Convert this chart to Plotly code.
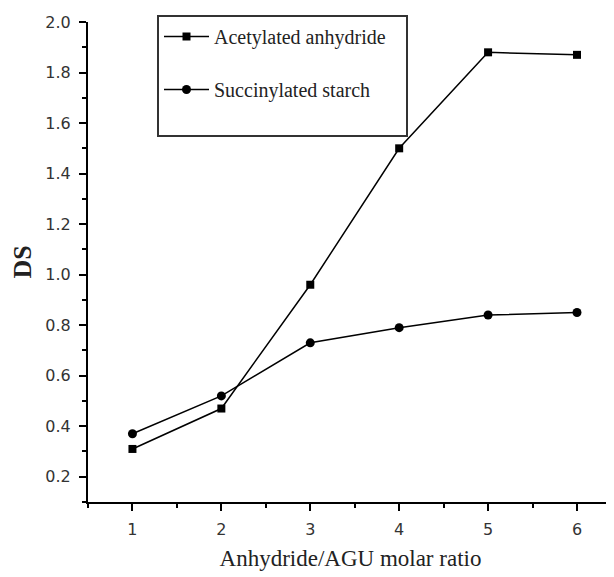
import plotly.graph_objects as go

molar_ratio = [1, 2, 3, 4, 5, 6]
acetylated_ds = [0.31, 0.47, 0.96, 1.50, 1.88, 1.87]
succinylated_ds = [0.37, 0.52, 0.73, 0.79, 0.84, 0.85]
series_names = ["Acetylated anhydride", "Succinylated starch"]

fig = go.Figure()
fig.add_trace(go.Scatter(
    x=molar_ratio, y=acetylated_ds, name=series_names[0] + "\u00a0\u00a0\u00a0", legendgroup="a",
    mode="lines+markers",
    line=dict(color="black", width=1.5),
    marker=dict(symbol="square", size=8, color="black"),
))
fig.add_trace(go.Scatter(
    x=molar_ratio, y=succinylated_ds, name=series_names[1] + "<br> ", legendgroup="b",
    mode="lines+markers",
    line=dict(color="black", width=1.5),
    marker=dict(symbol="circle", size=9, color="black"),
))

axis_common = dict(
    showline=True, linecolor="black", linewidth=2,
    ticks="outside", ticklen=7, tickwidth=2, tickcolor="black",
    showgrid=False, zeroline=False, automargin=False,
    ticklabelstandoff=5,
    tickfont=dict(family="DejaVu Sans, Arial, sans-serif", size=16, color="#333"),
)

fig.update_xaxes(
    range=[0.5, 6.405], tickmode="linear", tick0=1, dtick=1,
    minor=dict(ticks="outside", ticklen=4, tickwidth=2, tickcolor="black", dtick=0.5, tick0=0.5),
    title=dict(text="Anhydride/AGU molar ratio",
               font=dict(family="Liberation Serif, Times New Roman, serif", size=23, color="#222"),
               standoff=12),
    **axis_common,
)
fig.update_yaxes(
    range=[0.1, 2.0], tickmode="linear", tick0=0.2, dtick=0.2, tickformat=".1f",
    minor=dict(ticks="outside", ticklen=4, tickwidth=2, tickcolor="black", dtick=0.1, tick0=0.1),
    title=dict(text="<b>DS</b>",
               font=dict(family="Liberation Serif, Times New Roman, serif", size=26, color="#222"),
               standoff=14),
    **axis_common,
)

fig.update_layout(
    width=606, height=569,
    margin=dict(l=80, r=1, t=14, b=75),
    paper_bgcolor="white", plot_bgcolor="white",
    showlegend=True,
    legend=dict(
        x=(149 - 80) / 525, y=1 + 7 / 480, xanchor="left", yanchor="top",
        bgcolor="white", bordercolor="#333", borderwidth=2,
        font=dict(family="Liberation Serif, Times New Roman, serif", size=20, color="#222"),
        traceorder="grouped", tracegroupgap=24, valign="top",
        itemwidth=45,
    ),
)

fig.write_html("out.html")
